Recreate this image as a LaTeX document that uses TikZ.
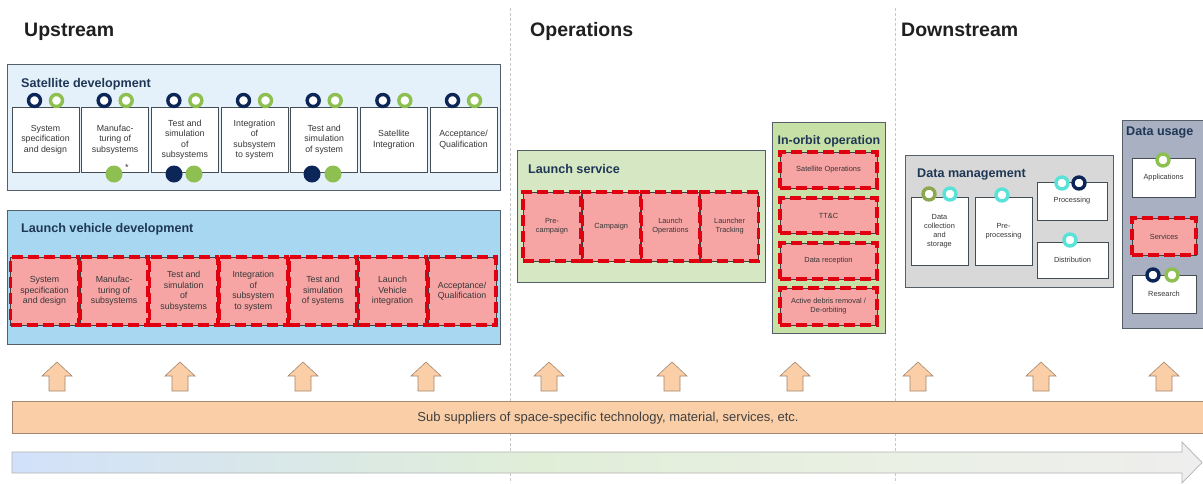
\documentclass[tikz,border=0pt]{standalone}
\usepackage{fontspec}
\setmainfont{Liberation Sans}
\usetikzlibrary{calc}

% palette
\definecolor{navyring}{RGB}{12,38,88}
\definecolor{greenring}{RGB}{141,192,80}
\definecolor{olivering}{RGB}{140,168,78}
\definecolor{cyanring}{RGB}{88,226,216}
\definecolor{satfill}{RGB}{228,241,251}
\definecolor{lvfill}{RGB}{168,216,241}
\definecolor{lsfill}{RGB}{214,231,196}
\definecolor{iofill}{RGB}{198,224,166}
\definecolor{dmfill}{RGB}{216,216,216}
\definecolor{dufill}{RGB}{168,176,194}
\definecolor{pinkfill}{RGB}{246,164,164}
\definecolor{reddash}{RGB}{225,0,15}
\definecolor{peach}{RGB}{250,206,166}
\definecolor{peachline}{RGB}{165,135,112}
\definecolor{titleblue}{RGB}{31,55,85}
\definecolor{boxline}{RGB}{85,95,105}
\definecolor{txt}{RGB}{55,55,55}
\definecolor{sepgray}{RGB}{200,200,200}
\definecolor{flowA}{RGB}{210,225,250}
\definecolor{flowB}{RGB}{224,238,216}
\definecolor{flowC}{RGB}{234,240,228}
\definecolor{flowD}{RGB}{238,238,238}
% the visible part of a TikZ shading runs from 25bp to 75bp
\pgfdeclarehorizontalshading{flowshade}{100bp}{color(0bp)=(flowA); color(25bp)=(flowA); color(47bp)=(flowB); color(62bp)=(flowC); color(75bp)=(flowD); color(100bp)=(flowD)}

\begin{document}
\begin{tikzpicture}[x=1pt, y=-1pt,
  sep/.style={draw=sepgray, line width=0.6pt, dash pattern=on 3pt off 2pt},
  head/.style={font=\fontsize{19.5}{22}\selectfont\bfseries, text=black!88, anchor=base west, inner sep=0pt},
  ptitle/.style={font=\fontsize{12.6}{14}\selectfont\bfseries, text=titleblue, inner sep=0pt, anchor=west},
  panel/.style={draw=boxline, line width=0.8pt},
  stage/.style={draw=boxline!80!black, fill=white, line width=0.7pt, align=center, text=txt, inner sep=1pt},
  riskbox/.style={draw=black!75, line width=0.5pt, fill=pinkfill, align=center, text=txt, inner sep=1pt,
    postaction={draw=reddash, line width=3.4pt, dash pattern=on 11pt off 5pt}},
  ring/.style={circle, draw=#1, line width=3.4pt, fill=white, minimum size=12pt, inner sep=0pt},
  dot/.style={circle, fill=#1, minimum size=17pt, inner sep=0pt},
  upar/.style={fill=peach, draw=peachline, line width=0.6pt, line join=miter},
  bigtxt/.style={font=\fontsize{8.8}{10.5}\selectfont},
  smalltxt/.style={font=\fontsize{7.4}{9}\selectfont}
]
\clip (0,0) rectangle (1203,483);
\fill[white] (0,0) rectangle (1203,483);

% section separators
\coordinate (sepAtop) at (510,8);  \coordinate (sepAbot) at (510,483);
\coordinate (sepBtop) at (895,8);  \coordinate (sepBbot) at (895,483);
\draw[sep] (sepAtop) -- (sepAbot);
\draw[sep] (sepBtop) -- (sepBbot);

% section headings
\node[head] (hUp)   at (24,36)  {Upstream};
\node[head] (hOp)   at (530,36) {Operations};
\node[head] (hDown) at (901,36) {Downstream};

% ---------------- Satellite development
\draw[panel, fill=satfill] (7,64) rectangle (500,190);
\node[ptitle] (satT) at (21,84) {Satellite development};
\foreach \i/\t in {0/{System\\specification\\and design},
                   1/{Manufac-\\turing of\\subsystems},
                   2/{Test and\\simulation\\of\\subsystems},
                   3/{Integration\\of\\subsystem\\to system},
                   4/{Test and\\simulation\\of system},
                   5/{Satellite\\Integration},
                   6/{Acceptance/\\Qualification}}{
  \node[stage, bigtxt, minimum width=67pt, minimum height=65pt] (sat\i) at ({45.5+69.67*\i},139.5) {\t};
  \node[ring=navyring]  (sat\i n) at ({34.5+69.67*\i},100.5) {};
  \node[ring=greenring] (sat\i g) at ({56.5+69.67*\i},100.5) {};
}
\node[dot=greenring] (sat1 d)  at (114,174) {};
\node[font=\fontsize{9}{10}\selectfont, text=txt, inner sep=0pt] (sat1 star) at (127,167) {*};
\node[dot=navyring]  (sat2 dn) at (174,174) {};
\node[dot=greenring] (sat2 dg) at (194,174) {};
\node[dot=navyring]  (sat4 dn) at (312,174) {};
\node[dot=greenring] (sat4 dg) at (333,174) {};

% ---------------- Launch vehicle development
\draw[panel, fill=lvfill] (7,210) rectangle (500,344);
\node[ptitle] (lvT) at (21,229) {Launch vehicle development};
\foreach \i/\t in {0/{System\\specification\\and design},
                   1/{Manufac-\\turing of\\subsystems},
                   2/{Test and\\simulation\\of\\subsystems},
                   3/{Integration\\of\\subsystem\\to system},
                   4/{Test and\\simulation\\of systems},
                   5/{Launch\\Vehicle\\integration},
                   6/{Acceptance/\\Qualification}}{
  \node[riskbox, bigtxt, minimum width=68pt, minimum height=68pt] (lv\i) at ({44.5+69.6*\i},291) {\t};
}

% ---------------- Launch service
\draw[panel, fill=lsfill] (517,150) rectangle (765,282);
\node[ptitle] (lsT) at (528,169) {Launch service};
\foreach \i/\t in {0/{Pre-\\campaign}, 1/{Campaign}, 2/{Launch\\Operations}, 3/{Launcher\\Tracking}}{
  \node[riskbox, smalltxt, minimum width=58pt, minimum height=69pt] (ls\i) at ({552+59.2*\i},226.5) {\t};
}

% ---------------- In-orbit operation
\draw[panel, fill=iofill] (772,122) rectangle (885,333);
\node[ptitle, anchor=center, font=\fontsize{12.4}{14}\selectfont\bfseries] (ioT) at (829,141) {In-orbit operation};
\node[riskbox, smalltxt, minimum width=97pt, minimum height=36pt] (io0) at (828.5,170)   {Satellite Operations};
\node[riskbox, smalltxt, minimum width=97pt, minimum height=35pt] (io1) at (828.5,215.5) {TT\&C};
\node[riskbox, smalltxt, minimum width=97pt, minimum height=36pt] (io2) at (828.5,261)   {Data reception};
\node[riskbox, smalltxt, minimum width=97pt, minimum height=37pt] (io3) at (828.5,306.5) {Active debris removal /\\De-orbiting};

% ---------------- Data management
\draw[panel, fill=dmfill] (905,155) rectangle (1113,287);
\node[ptitle] (dmT) at (917,174) {Data management};
\node[stage, smalltxt, minimum width=57pt, minimum height=68pt] (dmA) at (939.5,231) {Data\\collection\\and\\storage};
\node[stage, smalltxt, minimum width=57pt, minimum height=68pt] (dmB) at (1003.5,231) {Pre-\\processing};
\node[stage, smalltxt, minimum width=70pt, minimum height=38pt] (dmC) at (1072,201) {Processing};
\node[stage, smalltxt, minimum width=71pt, minimum height=36pt] (dmD) at (1072.5,260) {Distribution};
\node[ring=olivering] (dmA o) at (929,194) {};
\node[ring=cyanring]  (dmA c) at (950,194) {};
\node[ring=cyanring]  (dmB c) at (1002,195) {};
\node[ring=cyanring]  (dmC c) at (1062,183) {};
\node[ring=navyring]  (dmC n) at (1079,183) {};
\node[ring=cyanring]  (dmD c) at (1070,240) {};

% ---------------- Data usage
\draw[panel, fill=dufill] (1122,120) rectangle (1215,328);
\node[ptitle] (duT) at (1126,132) {Data usage};
\node[stage, smalltxt, minimum width=63pt, minimum height=39pt] (du0) at (1163.5,177.5) {Applications};
\node[riskbox, smalltxt, minimum width=64pt, minimum height=37pt] (du1) at (1164,236.5) {Services};
\node[stage, smalltxt, minimum width=64pt, minimum height=38pt] (du2) at (1164,294) {Research};
\node[ring=greenring] (du0 g) at (1163,160) {};
\node[ring=navyring]  (du2 n) at (1153,275) {};
\node[ring=greenring] (du2 g) at (1172,275) {};

% ---------------- supplier arrows and bar
\foreach \k in {0,...,9}{
  \pgfmathsetmacro\c{57+123*\k}
  \draw[upar] (\c,362) -- (\c+15,376) -- (\c+8,376) -- (\c+8,391) -- (\c-8,391) -- (\c-8,376) -- (\c-15,376) -- cycle;
}
\draw[fill=peach, draw=peachline, line width=0.8pt] (12,401) rectangle (1215,433);
\node[font=\fontsize{13}{15}\selectfont, text=black!75, inner sep=0pt] (supplyT) at (608,418)
  {Sub suppliers of space-specific technology, material, services, etc.};

% ---------------- value-chain arrow
\path[shading=flowshade, draw=black!30, line width=0.7pt]
  (12,452) -- (1182,452) -- (1182,442) -- (1202,462.5) -- (1182,483) -- (1182,473) -- (12,473) -- cycle;
\end{tikzpicture}
\end{document}
